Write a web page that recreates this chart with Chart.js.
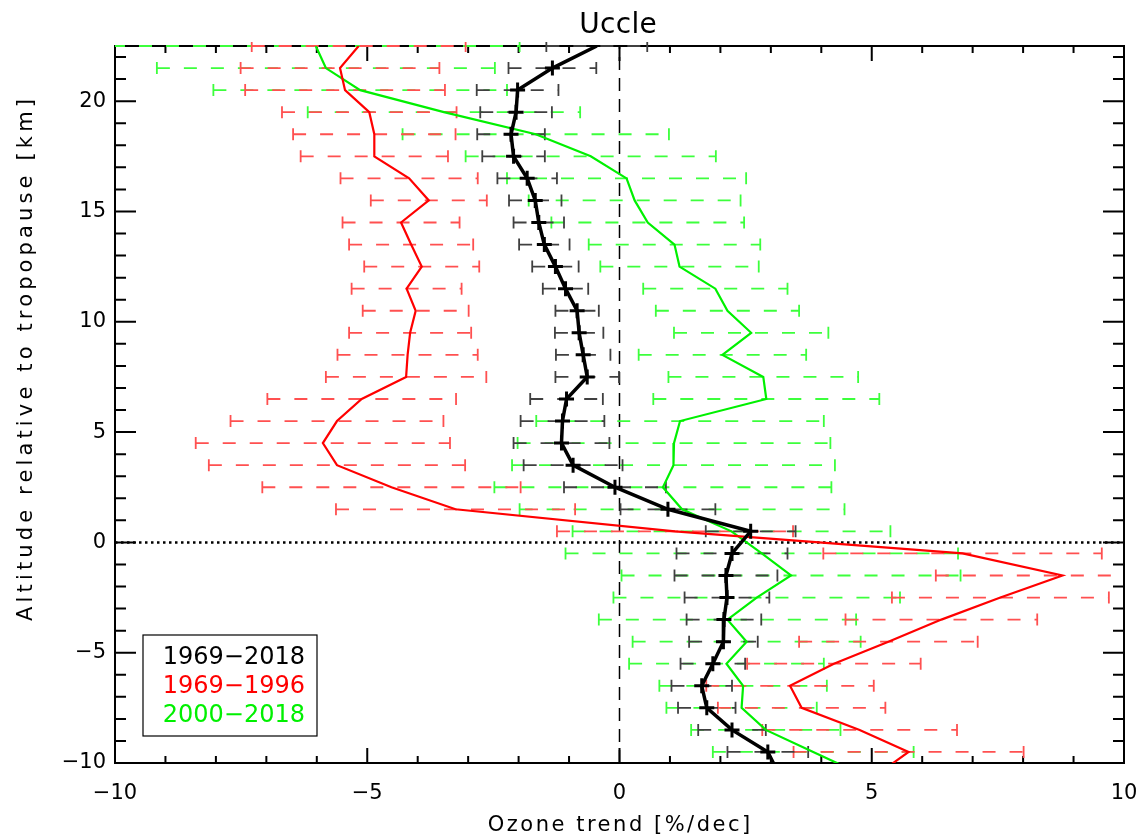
<!DOCTYPE html>
<html>
<head>
<meta charset="utf-8">
<title>Uccle ozone trends</title>
<script src="https://cdn.jsdelivr.net/npm/chart.js@4.4.1/dist/chart.umd.min.js"></script>
<style>
  html, body { margin: 0; padding: 0; background: #fff; }
  canvas { display: block; }
</style>
</head>
<body>
<canvas id="trendChart" width="1144" height="838"></canvas>
<script>
// altitude levels relative to the tropopause (km), top to bottom
const levels = [22.5, 21.5, 20.5, 19.5, 18.5, 17.5, 16.5, 15.5, 14.5, 13.5, 12.5, 11.5,
  10.5, 9.5, 8.5, 7.5, 6.5, 5.5, 4.5, 3.5, 2.5, 1.5, 0.5, -0.5, -1.5, -2.5, -3.5,
  -4.5, -5.5, -6.5, -7.5, -8.5, -9.5, -10.5];

// ozone trend (%/dec) and error half-width per level
const trend1969_2018 = [-0.45, -1.33, -2.02, -2.05, -2.15, -2.10, -1.83, -1.67, -1.60, -1.49, -1.27, -1.07,
  -0.84, -0.80, -0.72, -0.64, -1.05, -1.13, -1.15, -0.92, -0.09, 0.96, 2.60, 2.23, 2.11, 2.13, 2.07,
  2.06, 1.85, 1.63, 1.73, 2.23, 2.94, 3.16];
const err1969_2018 = [1.00, 0.87, 0.81, 0.71, 0.67, 0.62, 0.59, 0.52, 0.50, 0.50, 0.46, 0.45,
  0.43, 0.48, 0.54, 0.63, 0.72, 0.83, 0.95, 0.98, 1.01, 0.94, 0.89, 1.10, 1.02, 0.84, 0.74,
  0.68, 0.64, 0.60, 0.57, 0.67, 0.80, null];

const trend1969_1996 = [-5.17, -5.54, -5.44, -4.96, -4.86, -4.86, -4.17, -3.78, -4.33, -4.13, -3.92, -4.22,
  -4.04, -4.15, -4.20, -4.23, -5.11, -5.60, -5.88, -5.60, -4.52, -3.25, 1.10, 6.80, 8.78, 7.55, 6.38,
  5.33, 4.25, 3.38, 3.61, 4.76, 5.73, 5.12];
const err1969_1996 = [2.12, 1.97, 1.98, 1.73, 1.61, 1.46, 1.36, 1.15, 1.16, 1.23, 1.14, 1.09,
  1.05, 1.21, 1.39, 1.59, 1.87, 2.11, 2.52, 2.54, 2.56, 2.37, 2.34, 2.76, 2.51, 2.15, 1.90,
  1.77, 1.72, 1.66, 1.66, 1.93, 2.28, null];

const trend2000_2018 = [-6.02, -5.82, -5.14, -3.48, -1.66, -0.57, 0.14, 0.30, 0.56, 1.09, 1.19, 1.90,
  2.14, 2.61, 2.04, 2.85, 2.91, 1.20, 1.08, 1.07, 0.86, 1.24, 2.22, 2.82, 3.40, 2.72, 2.14,
  2.52, 2.12, 2.45, 2.42, 2.90, 3.84, 4.78];
const err2000_2018 = [4.04, 3.35, 2.91, 2.70, 2.64, 2.48, 2.37, 2.10, 1.91, 1.70, 1.57, 1.43,
  1.42, 1.53, 1.66, 1.88, 2.24, 2.85, 3.10, 3.20, 3.34, 3.22, 3.15, 3.89, 3.36, 2.84, 2.55,
  2.26, 1.93, 1.66, 1.49, 1.48, 1.99, null];

const periods = ['1969\u22122018', '1969\u22121996', '2000\u22122018'];
const xTickValues = [-10, -5, 0, 5, 10];
const yTickValues = [-10, -5, 0, 5, 10, 15, 20];

const FONT = 'DejaVu Sans';
Chart.defaults.font.family = FONT;
Chart.defaults.color = '#000';

function toPoints(trend) {
  return levels.map((lev, i) => ({ x: trend[i], y: lev }));
}

function minusLabel(v) {
  return v < 0 ? '\u2212' + Math.abs(v) : String(v);
}

function drawErrorBars(chart, trend, err, color) {
  const ctx = chart.ctx;
  const xs = chart.scales.x, ys = chart.scales.y;
  ctx.save();
  ctx.strokeStyle = color;
  ctx.lineWidth = 1.8;
  levels.forEach((lev, i) => {
    if (err[i] == null) return;
    const py = ys.getPixelForValue(lev);
    const x0 = xs.getPixelForValue(trend[i] - err[i]);
    const x1 = xs.getPixelForValue(trend[i] + err[i]);
    ctx.setLineDash([13, 14]);
    ctx.beginPath();
    ctx.moveTo(x0, py);
    ctx.lineTo(x1, py);
    ctx.stroke();
    ctx.setLineDash([]);
    ctx.beginPath();
    ctx.moveTo(x0, py - 6); ctx.lineTo(x0, py + 6);
    ctx.moveTo(x1, py - 6); ctx.lineTo(x1, py + 6);
    ctx.stroke();
  });
  ctx.restore();
}

// text stretched to the wide letter spacing of the original plot
function spacedText(ctx, text, x, y, targetWidth) {
  ctx.letterSpacing = '0px';
  const w = ctx.measureText(text).width;
  const sp = Math.max(0, (targetWidth - w) / [...text].length);
  ctx.letterSpacing = sp + 'px';
  ctx.fillText(text, x + sp / 2, y);
  ctx.letterSpacing = '0px';
}

const framePlugin = {
  id: 'idlFrame',
  beforeDatasetsDraw(chart) {
    const ctx = chart.ctx;
    const ca = chart.chartArea;
    const xs = chart.scales.x, ys = chart.scales.y;

    ctx.save();
    ctx.strokeStyle = '#000';

    // zero reference lines
    ctx.lineWidth = 1.5;
    ctx.setLineDash([13, 8]);
    const px0 = xs.getPixelForValue(0);
    ctx.beginPath(); ctx.moveTo(px0, ca.bottom); ctx.lineTo(px0, ca.top); ctx.stroke();
    ctx.lineWidth = 2.5;
    ctx.setLineDash([2.5, 3.5]);
    const py0 = ys.getPixelForValue(0);
    ctx.beginPath(); ctx.moveTo(ca.left, py0); ctx.lineTo(ca.right, py0); ctx.stroke();
    ctx.setLineDash([]);

    // box and inward ticks on all four sides
    ctx.lineWidth = 2;
    ctx.strokeRect(ca.left, ca.top, ca.right - ca.left, ca.bottom - ca.top);
    ctx.beginPath();
    for (let v = -10; v <= 10; v++) {
      const px = xs.getPixelForValue(v);
      const len = v % 5 === 0 ? 15 : 7;
      ctx.moveTo(px, ca.bottom); ctx.lineTo(px, ca.bottom - len);
      ctx.moveTo(px, ca.top); ctx.lineTo(px, ca.top + len);
    }
    for (let v = -10; v <= 22; v++) {
      const py = ys.getPixelForValue(v);
      const len = v % 5 === 0 ? 21 : 11;
      ctx.moveTo(ca.left, py); ctx.lineTo(ca.left + len, py);
      ctx.moveTo(ca.right, py); ctx.lineTo(ca.right - len, py);
    }
    ctx.stroke();
    ctx.restore();

    // error bars
    ctx.save();
    ctx.beginPath();
    ctx.rect(ca.left, ca.top - 4, ca.right - ca.left, ca.bottom - ca.top + 8);
    ctx.clip();
    drawErrorBars(chart, trend2000_2018, err2000_2018, '#3cff3c');
    drawErrorBars(chart, trend1969_1996, err1969_1996, '#ff5050');
    drawErrorBars(chart, trend1969_2018, err1969_2018, '#404040');
    ctx.restore();
  },
  afterDatasetsDraw(chart) {
    const ctx = chart.ctx;
    const ca = chart.chartArea;

    // legend box
    const bx = ca.left + 28, by = ca.bottom - 128;
    ctx.save();
    ctx.strokeStyle = '#000';
    ctx.lineWidth = 1.2;
    ctx.strokeRect(bx, by, 174, 101);
    ctx.font = '24px "' + FONT + '"';
    ctx.textAlign = 'right';
    ctx.textBaseline = 'alphabetic';
    const colors = ['#000000', '#ff0000', '#00f000'];
    periods.forEach((p, i) => {
      ctx.fillStyle = colors[i];
      ctx.fillText(p, bx + 162, by + 29 + i * 28.8);
    });

    // titles
    ctx.fillStyle = '#000';
    ctx.textAlign = 'center';
    ctx.font = '28px "' + FONT + '"';
    spacedText(ctx, 'Uccle', 618, 33, 78);
    ctx.font = '21px "' + FONT + '"';
    spacedText(ctx, 'Ozone trend [%/dec]', 619, 831, 265);
    ctx.save();
    ctx.translate(32, 360);
    ctx.rotate(-Math.PI / 2);
    spacedText(ctx, 'Altitude relative to tropopause [km]', 0, 0, 526);
    ctx.restore();
    ctx.restore();
  }
};

const ctx = document.getElementById('trendChart').getContext('2d');
new Chart(ctx, {
  type: 'scatter',
  data: {
    datasets: [
      {
        label: periods[0],
        data: toPoints(trend1969_2018),
        showLine: true,
        borderColor: '#000',
        borderWidth: 3.5,
        pointStyle: 'cross',
        pointRadius: c => (c.dataIndex === 0 || c.dataIndex === levels.length - 1) ? 0 : 7.5,
        pointBorderWidth: 3,
        pointBorderColor: '#000',
        clip: 0
      },
      {
        label: periods[1],
        data: toPoints(trend1969_1996),
        showLine: true,
        borderColor: '#ff0000',
        borderWidth: 2.2,
        pointRadius: 0,
        clip: 0
      },
      {
        label: periods[2],
        data: toPoints(trend2000_2018),
        showLine: true,
        borderColor: '#00f000',
        borderWidth: 2.2,
        pointRadius: 0,
        clip: 0
      }
    ]
  },
  options: {
    responsive: false,
    animation: false,
    events: [],
    layout: { padding: { top: 46, right: 20, left: 0, bottom: 0 } },
    plugins: {
      legend: { display: false },
      tooltip: { enabled: false },
      title: { display: false }
    },
    scales: {
      x: {
        type: 'linear',
        min: -10,
        max: 10,
        grid: { display: false, drawTicks: false },
        border: { display: false },
        afterBuildTicks: s => { s.ticks = xTickValues.map(v => ({ value: v })); },
        afterFit: s => { s.height = 75; s.paddingLeft = 0; s.paddingRight = 0; },
        ticks: { padding: 18, font: { size: 21 }, color: '#000', callback: minusLabel }
      },
      y: {
        type: 'linear',
        min: -10,
        max: 22.5,
        grid: { display: false, drawTicks: false },
        border: { display: false },
        afterBuildTicks: s => { s.ticks = yTickValues.map(v => ({ value: v })); },
        afterFit: s => { s.width = 115; s.paddingTop = 0; s.paddingBottom = 0; },
        ticks: { padding: 9, font: { size: 21 }, color: '#000', callback: minusLabel }
      }
    }
  },
  plugins: [framePlugin]
});
</script>
</body>
</html>
